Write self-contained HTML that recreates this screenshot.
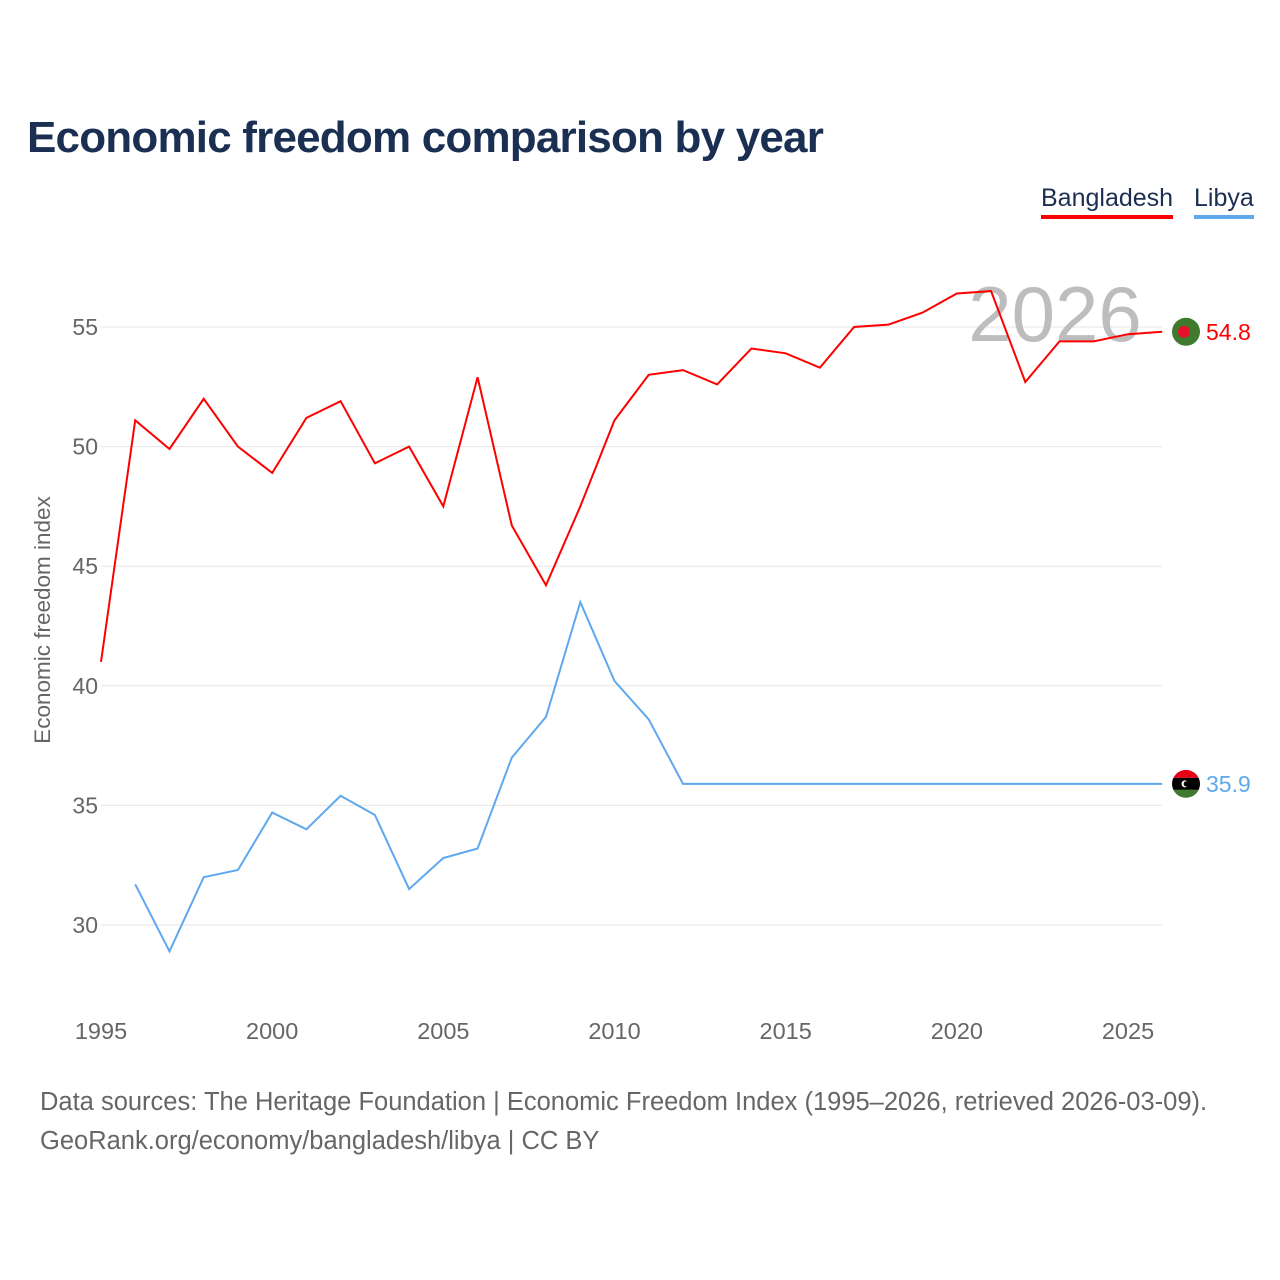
<!DOCTYPE html>
<html><head><meta charset="utf-8"><style>
body{margin:0;background:#fff;}
#wrap{position:relative;width:1280px;height:1280px;font-family:"Liberation Sans",sans-serif;}
h1{position:absolute;left:27px;top:113px;margin:0;font-size:44px;font-weight:bold;color:#1b2f52;letter-spacing:-0.8px;}
.leg{position:absolute;top:184px;font-size:25px;color:#1b2f52;padding-bottom:2px;}
.foot{position:absolute;left:40px;font-size:25.5px;color:#666;}
</style></head><body>
<div id="wrap">
<h1>Economic freedom comparison by year</h1>
<div class="leg" style="left:1041px;border-bottom:4px solid #f00">Bangladesh</div>
<div class="leg" style="left:1194px;border-bottom:4px solid #5ea8ee">Libya</div>
<svg id="chart" width="1280" height="1280" style="position:absolute;left:0;top:0"></svg>
<div class="foot" style="top:1088px">Data sources: The Heritage Foundation | Economic Freedom Index (1995–2026, retrieved 2026-03-09).</div>
<div class="foot" style="top:1127px">GeoRank.org/economy/bangladesh/libya | CC BY</div>
</div>
<script>
const years=[1995,1996,1997,1998,1999,2000,2001,2002,2003,2004,2005,2006,2007,2008,2009,2010,2011,2012,2013,2014,2015,2016,2017,2018,2019,2020,2021,2022,2023,2024,2025,2026];
const bangladesh=[41.0,51.1,49.9,52.0,50.0,48.9,51.2,51.9,49.3,50.0,47.5,52.9,46.7,44.2,47.5,51.1,53.0,53.2,52.6,54.1,53.9,53.3,55.0,55.1,55.6,56.4,56.5,52.7,54.4,54.4,54.7,54.8];
const libya=[null,31.7,28.9,32.0,32.3,34.7,34.0,35.4,34.6,31.5,32.8,33.2,37.0,38.7,43.5,40.2,38.6,35.9,35.9,35.9,35.9,35.9,35.9,35.9,35.9,35.9,35.9,35.9,35.9,35.9,35.9,35.9];
const yTicks=[30,35,40,45,50,55];
const xTicks=[1995,2000,2005,2010,2015,2020,2025];
const NS='http://www.w3.org/2000/svg';
const svg=document.getElementById('chart');
const X=v=>101+(v-1995)*(1027/30);
const Y=v=>327+(55-v)*(598/25);
function mk(t,a,p){const e=document.createElementNS(NS,t);for(const k in a)e.setAttribute(k,a[k]);(p||svg).appendChild(e);return e;}
yTicks.forEach(v=>{
 const l=mk('line',{x1:101,x2:1162,y1:Y(v),y2:Y(v),stroke:'#e6e6e6','stroke-width':1});
 
 
 const t=mk('text',{x:98,y:Y(v)+8,'text-anchor':'end','font-size':23,fill:'#666'});t.textContent=v;
 
 
});
xTicks.forEach(v=>{
 const t=mk('text',{x:X(v),y:1039,'text-anchor':'middle','font-size':23.5,fill:'#666'});t.textContent=v;
 
 
});
const yt=mk('text',{x:0,y:0,'font-size':22.5,fill:'#666','text-anchor':'middle',transform:'translate(50,620) rotate(-90)'});yt.textContent='Economic freedom index';


const wm=mk('text',{x:1055,y:341,'text-anchor':'middle','font-size':78,fill:'#bdbdbd'});wm.textContent='2026';


function line(data,color,name){
 let d='';data.forEach((v,i)=>{if(v==null)return;d+=(d?'L':'M')+X(years[i]).toFixed(1)+','+Y(v).toFixed(1);});
 const p=mk('path',{d:d,fill:'none',stroke:color,'stroke-width':2});
 
 
}
line(bangladesh,'#ff0000','bangladesh-line');
line(libya,'#5ea8ee','libya-line');
const bv=bangladesh[bangladesh.length-1], lv=libya[libya.length-1];
const g1=mk('g',{});


mk('circle',{cx:1186,cy:Y(bv),r:14,fill:'#3f7a2e'},g1);
mk('circle',{cx:1184,cy:Y(bv),r:6,fill:'#e8112d'},g1);
const g2=mk('g',{});


const cy=Y(lv);
mk('clipPath',{id:'lc'},g2);
mk('circle',{cx:1186,cy:cy,r:14},document.getElementById('lc'));
mk('rect',{x:1172,y:cy-14,width:28,height:8,fill:'#e70013','clip-path':'url(#lc)'},g2);
mk('rect',{x:1172,y:cy-6,width:28,height:12,fill:'#000','clip-path':'url(#lc)'},g2);
mk('rect',{x:1172,y:cy+6,width:28,height:8,fill:'#3f7a2e','clip-path':'url(#lc)'},g2);
mk('circle',{cx:1185,cy:cy,r:3.5,fill:'#fff'},g2);
mk('circle',{cx:1186.5,cy:cy,r:2.8,fill:'#000'},g2);
const t1=mk('text',{x:1206,y:Y(bv)+8,'font-size':23,fill:'#ff0000'});t1.textContent=bv.toFixed(1);


const t2=mk('text',{x:1206,y:Y(lv)+8,'font-size':23,fill:'#5ea8ee'});t2.textContent=lv.toFixed(1);


</script>
</body></html>
